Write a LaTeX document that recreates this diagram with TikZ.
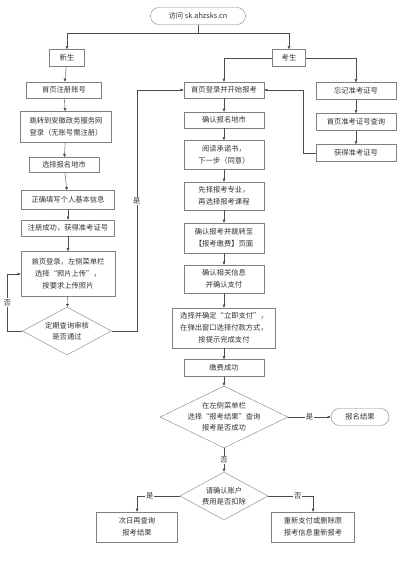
\documentclass[tikz,border=0pt]{standalone}
\usepackage{fontspec}
\setmainfont{Noto Sans CJK SC}
\usetikzlibrary{positioning,shapes.geometric,shapes.misc,arrows.meta}
\begin{document}
\begin{tikzpicture}[x=1pt,y=-1pt,
    font=\fontsize{7.3}{12}\selectfont,
    box/.style={draw=black!50,fill=white,text=black!80,align=center,
                inner sep=1pt,minimum height=16pt},
    term/.style={box,rounded rectangle,minimum height=17pt},
    dec/.style={diamond,draw=black!50,fill=white,text=black!80,align=center,
                inner sep=-3pt,aspect=2,font=\fontsize{7.3}{11}\selectfont},
    ar/.style={-{Latex[length=3.2pt,width=3pt]},black!70},
    lab/.style={fill=white,inner sep=1pt,text=black!80}]
  \useasboundingbox (0,0) rectangle (402,568);

  % --- top -------------------------------------------------------------------
  \node[term,minimum width=97pt] (visit) at (198,16) {访问 sk.ahzsks.cn};
  \node[box,minimum width=35pt,minimum height=17pt] (xs) at (67,58) {新生};
  \node[box,minimum width=33pt,minimum height=17pt] (ks) at (289,58) {考生};

  \draw[ar] (visit.south) -- ++(0,8) -| (xs.north);
  \draw[ar] (visit.south) -- ++(0,8) -| (ks.north);

  % --- new student -----------------------------------------------------------
  \node[box,minimum width=75pt] (zc) at (64,90) {首页注册账号};
  \node[box,minimum width=91pt,minimum height=31pt] (tz) at (66,127)
       {跳转到安徽政务服务网\\登录（无账号需注册）};
  \node[box,minimum width=70pt,minimum height=15pt] (xd) at (64,165) {选择报名地市};
  \node[box,minimum width=93pt,minimum height=19pt] (tx) at (68,200) {正确填写个人基本信息};
  \node[box,minimum width=93pt] (zcg) at (68,228) {注册成功，获得准考证号};
  \node[box,minimum width=94pt,minimum height=45pt] (sc) at (68,274)
       {首页登录，左侧菜单栏\\选择“照片上传”，\\按要求上传照片};
  \node[dec,minimum width=89pt,minimum height=48pt] (q1) at (67,331)
       {定期查询审核\\是否通过};

  \draw[ar] (xs) -- (zc);
  \draw[ar] (zc) -- (tz);
  \draw[ar] (tz) -- (xd);
  \draw[ar] (xd) -- (tx);
  \draw[ar] (tx) -- (zcg);
  \draw[ar] (zcg) -- (sc);
  \draw[ar] (sc) -- (q1);
  \draw[ar] (q1.west) -- ++(-15,0) |- (sc.west) node[lab,pos=0.25]{否};

  % --- registration ----------------------------------------------------------
  \node[box,minimum width=80pt] (dl) at (224,90) {首页登录并开始报考};
  \node[box,minimum width=80pt] (qr) at (224,120) {确认报名地市};
  \node[box,minimum width=80pt,minimum height=29pt] (yd) at (224,155)
       {阅读承诺书，\\下一步（同意）};
  \node[box,minimum width=80pt,minimum height=28pt] (xz) at (224,196)
       {先择报考专业，\\再选择报考课程};
  \node[box,minimum width=80pt,minimum height=30pt] (qb) at (224,238)
       {确认报考并跳转至\\【报考缴费】页面};
  \node[box,minimum width=80pt,minimum height=28pt] (qx) at (224,279)
       {确认相关信息\\并确认支付};
  \node[box,minimum width=103pt,minimum height=40pt] (xq) at (224,328)
       {选择并确定“立即支付”，\\在弹出窗口选择付款方式，\\按提示完成支付};
  \node[box,minimum width=80pt,minimum height=17pt] (jf) at (224,368) {缴费成功};
  \node[dec,minimum width=128pt,minimum height=62pt] (q2) at (224,417)
       {在左侧菜单栏\\选择“报考结果”查询\\报考是否成功};
  \node[term,minimum width=60pt] (bm) at (360,417) {报名结果};
  \node[dec,minimum width=88pt,minimum height=48pt] (q3) at (224,496)
       {请确认账户\\费用是否扣除};
  \node[box,minimum width=81pt,minimum height=30pt] (cr) at (137,527)
       {次日再查询\\报考结果};
  \node[box,minimum width=83pt,minimum height=30pt] (cx) at (313,527)
       {重新支付或删除原\\报考信息重新报考};

  \draw[ar] (ks.west) -| (dl.north);
  \draw[ar] (q1.east) -- ++(25,0) |- (dl.west) node[lab,pos=0.27]{是};
  \draw[ar] (dl) -- (qr);
  \draw[ar] (qr) -- (yd);
  \draw[ar] (yd) -- (xz);
  \draw[ar] (xz) -- (qb);
  \draw[ar] (qb) -- (qx);
  \draw[ar] (qx) -- (xq);
  \draw[ar] (xq) -- (jf);
  \draw[ar] (jf) -- (q2);
  \draw[ar] (q2) -- (bm) node[lab,midway]{是};
  \draw[ar] (q2) -- (q3) node[lab,midway]{否};
  \draw[ar] (q3.west) -| (cr.north) node[lab,pos=0.35]{是};
  \draw[ar] (q3.east) -| (cx.north) node[lab,pos=0.33]{否};

  % --- lost ticket number ----------------------------------------------------
  \node[box,minimum width=80pt,minimum height=17pt] (wj) at (356,91) {忘记准考证号};
  \node[box,minimum width=80pt,minimum height=17pt] (zk) at (356,122) {首页准考证号查询};
  \node[box,minimum width=80pt,minimum height=17pt] (hd) at (356,153) {获得准考证号};

  \draw[ar] (ks.east) -| (wj.north);
  \draw[ar] (wj) -- (zk);
  \draw[ar] (zk) -- (hd);
  \draw[ar] (hd.west) -- ++(-13,0) |- (dl.east);
\end{tikzpicture}
\end{document}
